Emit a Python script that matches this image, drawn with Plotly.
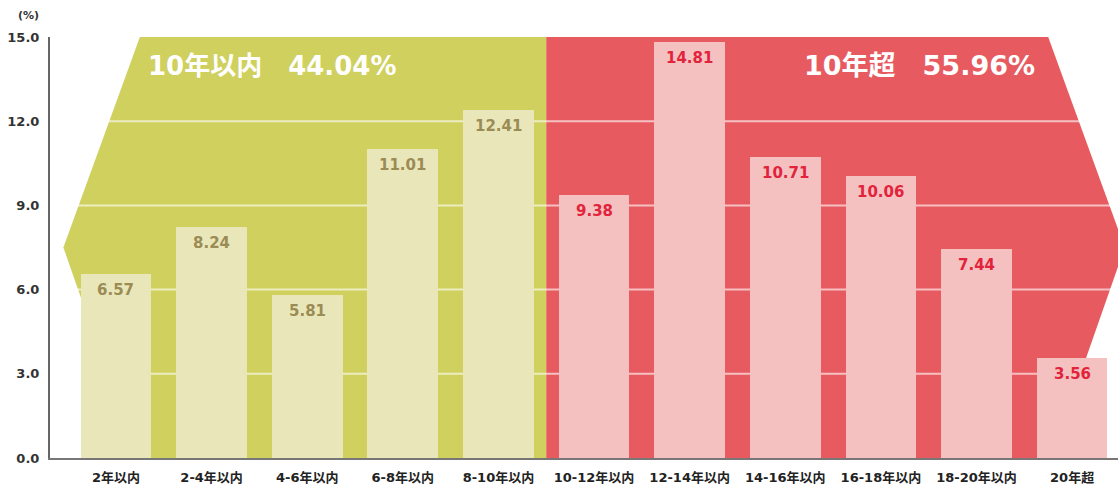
import plotly.graph_objects as go

# Share of holdings by period (%)
categories = ["2年以内", "2-4年以内", "4-6年以内", "6-8年以内", "8-10年以内",
              "10-12年以内", "12-14年以内", "14-16年以内", "16-18年以内",
              "18-20年以内", "20年超"]
values = [6.57, 8.24, 5.81, 11.01, 12.41, 9.38, 14.81, 10.71, 10.06, 7.44, 3.56]
group_under = "10年以内　44.04%"
group_over = "10年超　55.96%"
y_ticks = [0, 3, 6, 9, 12, 15]
grid_vals = [3, 6, 9, 12]

FONT = "DejaVu Sans, Noto Sans CJK JP, sans-serif"
GREEN_BG = "#cfd05e"
RED_BG = "#e75b60"
GREEN_BAR = "#e9e7b9"
RED_BAR = "#f4c1c0"
GREEN_TXT = "#9b8b55"
RED_TXT = "#e2233b"

n_under = 5
bar_colors = [GREEN_BAR if i < n_under else RED_BAR for i in range(len(values))]
text_colors = [GREEN_TXT if i < n_under else RED_TXT for i in range(len(values))]

fig = go.Figure()
fig.add_trace(go.Bar(
    x=list(range(len(categories))),
    y=values,
    width=0.74,
    marker=dict(color=bar_colors, line=dict(width=0)),
    hoverinfo="skip",
))

shapes = [
    # backdrop for the "within 10 years" group
    dict(type="path", xref="x", yref="y", layer="below",
         path="M 0.25,15 L -0.55,7.5 L 0.22,0 L 4.5,0 L 4.5,15 Z",
         fillcolor=GREEN_BG, line=dict(width=0)),
    # backdrop for the "over 10 years" group
    dict(type="path", xref="x", yref="y", layer="below",
         path="M 4.5,15 L 9.75,15 L 10.55,7.5 L 9.78,0 L 4.5,0 Z",
         fillcolor=RED_BG, line=dict(width=0)),
]
# guide lines: listed after the backdrops so they sit on top of them, beneath the bars
# (span past the axis range; the subplot clips them)
for v in grid_vals:
    shapes.append(dict(type="line", xref="x", yref="y", layer="below",
                       x0=-1, x1=11, y0=v, y1=v,
                       line=dict(color="rgba(255,255,255,0.62)", width=2)))

annotations = []
for i, v in enumerate(values):
    annotations.append(dict(
        x=i, y=v, xref="x", yref="y", text=f"{v:.2f}", showarrow=False,
        yanchor="middle", yshift=-16,
        font=dict(family=FONT, size=15, color=text_colors[i], weight="bold"),
    ))
annotations += [
    dict(x=0.31, y=13.95, xref="x", yref="y", text=group_under, showarrow=False,
         xanchor="left", yanchor="middle",
         font=dict(family=FONT, size=26, color="white", weight="bold")),
    dict(x=7.17, y=14.0, xref="x", yref="y", text=group_over, showarrow=False,
         xanchor="left", yanchor="middle",
         font=dict(family=FONT, size=27, color="white", weight="bold")),
    dict(x=-0.0197, y=1.052, xref="paper", yref="paper", text="(%)", showarrow=False,
         xanchor="center", yanchor="middle",
         font=dict(family=FONT, size=11, color="#333", weight="bold")),
]

fig.update_layout(
    width=1118, height=486,
    margin=dict(l=50, r=0, t=37, b=28),
    paper_bgcolor="white", plot_bgcolor="white",
    showlegend=False,
    bargap=0,
    shapes=shapes,
    annotations=annotations,
    xaxis=dict(
        type="category",
        range=[-0.69, 10.48],
        tickmode="array",
        tickvals=list(range(len(categories))),
        ticktext=categories,
        tickfont=dict(family=FONT, size=13, color="#222", weight="bold"),
        showgrid=False, zeroline=False,
        showline=True, linecolor="#777", linewidth=2,
        ticks="", ticklabelstandoff=6,
    ),
    yaxis=dict(
        range=[0, 15],
        tickmode="array",
        tickvals=y_ticks,
        tickformat=".1f",
        tickfont=dict(family=FONT, size=13, color="#333", weight="bold"),
        showgrid=False, zeroline=False,
        showline=True, linecolor="#666", linewidth=2,
        ticks="", ticklabelstandoff=6,
    ),
)

fig.write_html("out.html")
